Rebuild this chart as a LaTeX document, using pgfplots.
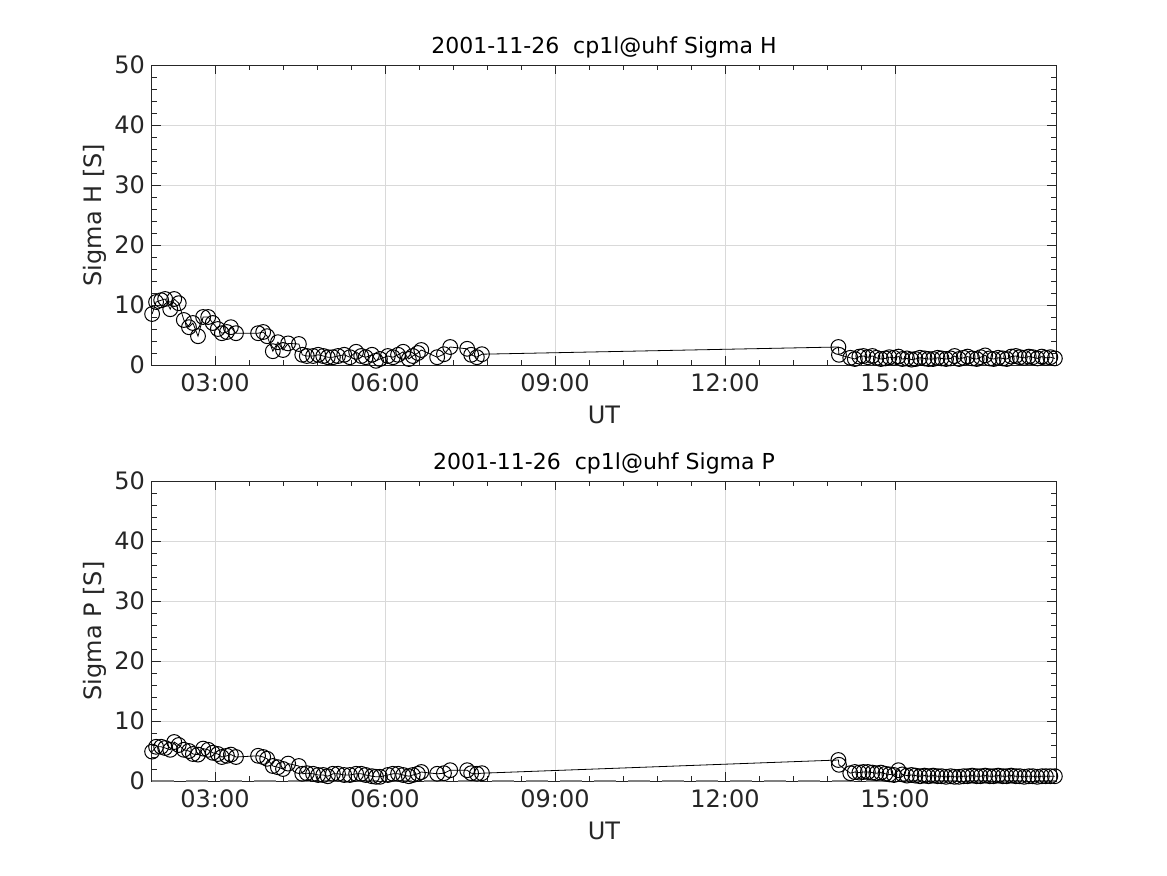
\documentclass[border=0pt]{standalone}
\usepackage{pgfplots}
\pgfplotsset{compat=1.18}
\usepackage{pgfplotstable}
\usepackage{fontspec}
\setmainfont{DejaVu Sans}
\definecolor{mgray}{RGB}{38,38,38}
\pgfplotstableread{
t v
1.89 8.5
1.96 10.5
2.05 10.8
2.12 11.0
2.21 9.3
2.28 11.0
2.36 10.3
2.45 7.5
2.54 6.3
2.61 7.0
2.70 4.8
2.79 8.0
2.88 8.0
2.96 7.0
3.05 6.0
3.12 5.3
3.21 5.5
3.28 6.3
3.37 5.3
3.76 5.3
3.85 5.5
3.92 4.8
4.02 2.3
4.11 3.8
4.20 2.5
4.29 3.6
4.48 3.5
4.54 1.7
4.62 1.5
4.73 1.5
4.82 1.7
4.91 1.5
4.99 1.3
5.08 1.3
5.17 1.5
5.28 1.7
5.38 1.3
5.49 2.2
5.58 1.5
5.66 1.3
5.77 1.7
5.84 0.7
5.91 1.0
6.05 1.5
6.14 1.3
6.23 1.7
6.32 2.2
6.42 1.0
6.49 1.5
6.58 2.0
6.64 2.5
6.92 1.3
7.04 1.8
7.15 3.0
7.45 2.7
7.52 1.7
7.62 1.3
7.71 1.8
14.00 3.0
14.01 1.7
14.21 1.2
14.29 1.0
14.37 1.4
14.44 1.5
14.52 1.3
14.60 1.5
14.67 1.2
14.75 1.0
14.83 1.1
14.90 1.3
14.98 1.2
15.06 1.4
15.13 1.0
15.21 1.1
15.29 0.9
15.36 1.0
15.44 1.2
15.52 1.1
15.59 1.0
15.67 1.0
15.75 1.2
15.82 1.1
15.90 1.0
15.98 1.1
16.05 1.5
16.13 1.0
16.21 1.2
16.28 1.4
16.36 1.1
16.44 1.0
16.51 1.3
16.59 1.6
16.67 1.1
16.74 1.0
16.82 1.2
16.90 1.1
16.97 1.0
17.05 1.4
17.13 1.5
17.20 1.3
17.28 1.2
17.36 1.4
17.43 1.3
17.51 1.1
17.59 1.4
17.66 1.2
17.74 1.3
17.82 1.1
}\sigh
\pgfplotstableread{
t v
1.89 4.9
1.96 5.7
2.05 5.7
2.12 5.5
2.21 5.2
2.28 6.5
2.36 6.0
2.45 5.2
2.54 5.0
2.61 4.5
2.70 4.4
2.79 5.4
2.88 5.2
2.96 4.7
3.05 4.5
3.12 4.0
3.21 4.2
3.28 4.4
3.37 4.0
3.76 4.2
3.85 4.0
3.92 3.7
4.02 2.5
4.11 2.3
4.20 2.0
4.29 2.9
4.48 2.5
4.54 1.2
4.62 1.3
4.73 1.2
4.82 1.0
4.91 1.0
4.99 0.8
5.08 1.2
5.17 1.2
5.28 1.0
5.38 1.0
5.49 1.2
5.58 1.2
5.66 1.0
5.77 0.8
5.84 0.7
5.91 0.7
6.05 1.0
6.14 1.2
6.23 1.2
6.32 1.0
6.42 0.8
6.49 1.0
6.58 1.2
6.64 1.5
6.92 1.2
7.04 1.3
7.15 1.8
7.45 1.8
7.52 1.3
7.62 1.2
7.71 1.3
14.00 3.5
14.01 2.7
14.21 1.3
14.29 1.5
14.37 1.4
14.44 1.5
14.52 1.5
14.60 1.4
14.67 1.3
14.75 1.4
14.83 1.2
14.90 1.1
14.98 1.0
15.06 1.8
15.13 1.1
15.21 0.9
15.29 1.0
15.36 0.9
15.44 0.8
15.52 0.9
15.59 0.8
15.67 0.9
15.75 0.8
15.82 0.8
15.90 0.7
15.98 0.8
16.05 0.7
16.13 0.7
16.21 0.8
16.28 0.8
16.36 0.9
16.44 0.8
16.51 0.8
16.59 0.9
16.67 0.8
16.74 0.8
16.82 0.9
16.90 0.8
16.97 0.8
17.05 0.9
17.13 0.8
17.20 0.8
17.28 0.7
17.36 0.8
17.43 0.8
17.51 0.7
17.59 0.8
17.66 0.8
17.74 0.8
17.82 0.8
}\sigp
\pgfplotsset{
  mystyle/.style={
    scale only axis, width=452pt, height=150pt,
    xmin=1.888, xmax=17.84, ymin=0, ymax=50,
    xtick={3,6,9,12,15}, xticklabels={03:00,06:00,09:00,12:00,15:00},
    ytick={0,10,20,30,40,50},
    minor x tick num=4, minor y tick num=4,
    tick align=inside, xtick pos=both, ytick pos=both,
    major tick length=4.5pt, minor tick length=2.5pt,
    grid=major, major grid style={gray!30, line width=0.4pt},
    axis line style={mgray, line width=0.5pt}, every tick/.style={mgray, line width=0.5pt},
    tick label style={font=\fontsize{12}{14}\selectfont, text=mgray},
    xticklabel style={yshift=-1pt},
    label style={font=\fontsize{12}{14}\selectfont, text=mgray},
    title style={font=\fontsize{11}{13}\selectfont, yshift=-6pt, text=black},
    /pgf/number format/assume math mode=true,
    xlabel={UT},
    xlabel style={yshift=0pt},
    ylabel style={yshift=-3pt},
  }
}
\begin{document}
\begin{tikzpicture}
\path[use as bounding box] (0,0) rectangle (583.5pt,-437.5pt);
\begin{axis}[mystyle, at={(76pt,-32.5pt)}, anchor=north west,
  title={2001-11-26\ \ cp1l@uhf Sigma H}, ylabel={Sigma H [S]}]
\addplot[black, line width=0.4pt, mark=o, mark size=3.7pt, mark options={line width=0.5pt}] table[x=t,y=v] {\sigh};
\end{axis}
\begin{axis}[mystyle, at={(76pt,-240.5pt)}, anchor=north west,
  title={2001-11-26\ \ cp1l@uhf Sigma P}, ylabel={Sigma P [S]}]
\addplot[gray, line width=0.8pt, dash pattern=on 11pt off 6pt, forget plot] coordinates {(1.888,0) (17.84,0)};
\addplot[black, line width=0.4pt, mark=o, mark size=3.7pt, mark options={line width=0.5pt}] table[x=t,y=v] {\sigp};
\end{axis}
\end{tikzpicture}
\end{document}
